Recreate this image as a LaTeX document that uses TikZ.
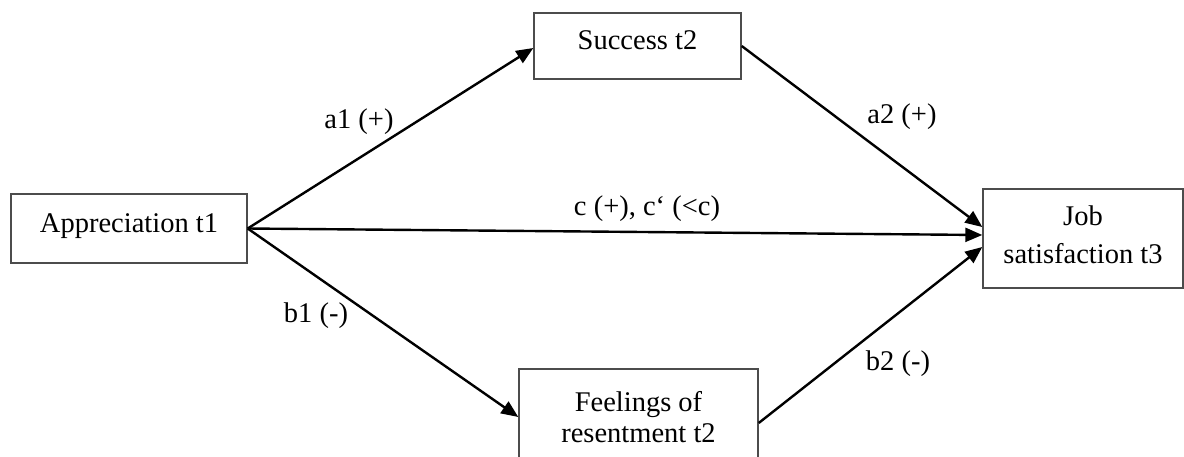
\documentclass[tikz,border=0pt]{standalone}
\usepackage{fontspec}
\setmainfont{Liberation Serif}
\usetikzlibrary{arrows.meta}
\begin{document}
\begin{tikzpicture}[x=1pt,y=-1pt,
  box/.style={draw=black!70, line width=1.4pt, inner sep=0pt, align=center},
  conn/.style={line width=2.4pt, -{Triangle[length=17pt,width=14pt]}},
  lbl/.style={inner sep=0pt, anchor=base},
  every node/.style={font=\fontsize{28.5}{31}\selectfont}]
\useasboundingbox (0,0) rectangle (1184,456);
\clip (0,0) rectangle (1184,456);
\node[box, minimum width=236pt, minimum height=69pt, text height=20pt, text depth=13pt] (app) at (129,228.5) {Appreciation t1};
\node[box, minimum width=207pt, minimum height=66pt, text height=20pt, text depth=13pt] (succ) at (637.5,46) {Success t2};
\node[box, minimum width=200pt, minimum height=99pt, font=\fontsize{28.5}{38}\selectfont] (job) at (1083,238.5) {Job\\satisfaction t3\rule[-8pt]{0pt}{8pt}};
\node[box, minimum width=239pt, minimum height=100pt, font=\fontsize{28.5}{31}\selectfont] (feel) at (638.5,419) {Feelings of\\resentment t2\rule[-3.5pt]{0pt}{3.5pt}};
\draw[conn] (app.east) -- ([yshift=-2pt]succ.west);
\draw[conn] (app.east) -- ([yshift=3.5pt]job.west);
\draw[conn] (app.east) -- ([yshift=2pt]feel.west);
\draw[conn] (succ.east) -- ([yshift=11.5pt]job.west);
\draw[conn] ([yshift=-4pt]feel.east) -- ([yshift=-8.5pt]job.west);
\node[lbl] (la1) at (359,128) {a1 (+)};
\node[lbl] (la2) at (902,123) {a2 (+)};
\node[lbl] (lc) at (647,215) {c (+), c‘ (<c)};
\node[lbl] (lb1) at (316,322) {b1 (-)};
\node[lbl] (lb2) at (898,370) {b2 (-)};
\end{tikzpicture}
\end{document}
